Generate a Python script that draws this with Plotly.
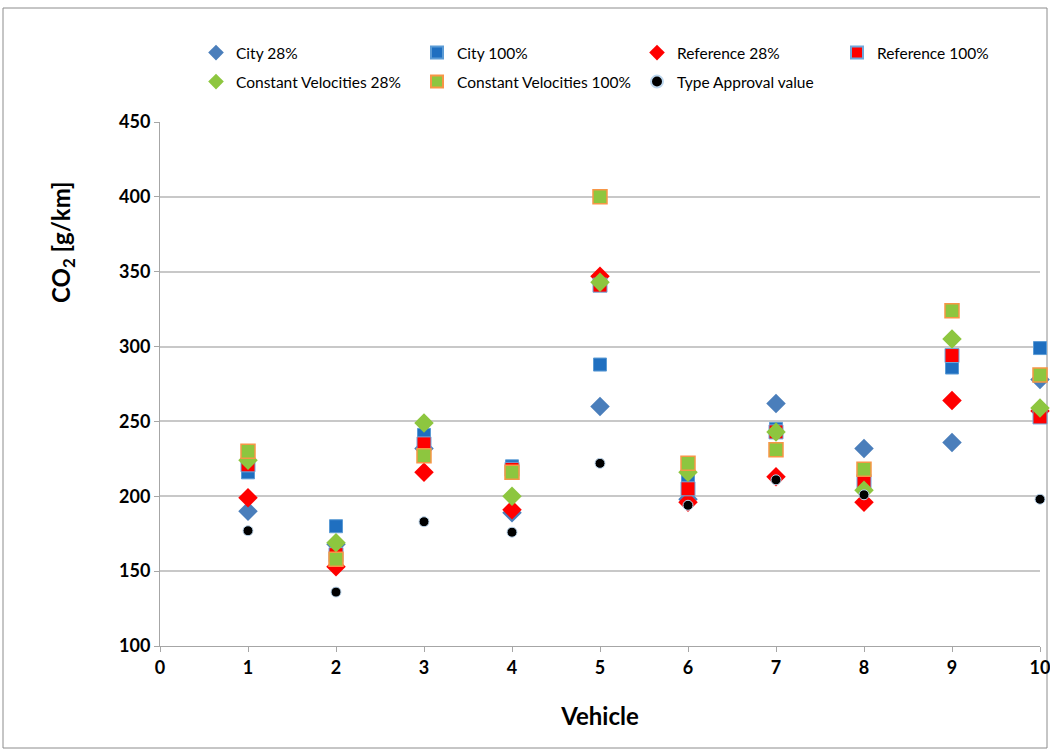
import plotly.graph_objects as go

vehicles = [1, 2, 3, 4, 5, 6, 7, 8, 9, 10]
city_28 = [190, 168, 232, 189, 260, 198, 262, 232, 236, 278]
city_100 = [216, 180, 241, 220, 288, 210, 245, 208, 286, 299]
ref_28 = [199, 153, 216, 191, 347, 196, 213, 196, 264, 257]
ref_100 = [221, 161, 235, 218, 341, 205, 243, 210, 294, 253]
cv_28 = [224, 169, 249, 200, 343, 216, 243, 204, 305, 259]
cv_100 = [230, 158, 227, 216, 400, 222, 231, 218, 324, 281]
type_approval = [177, 136, 183, 176, 222, 194, 211, 201, None, 198]

FONT = "Lato"
PL, PR, PT, PB = 160, 1040, 122, 646
PW, PH = PR - PL, PB - PT

series = [
    ("City 28%", city_28, dict(symbol="diamond", size=15, color="#4A7EBB", line=dict(width=0))),
    ("City 100%", city_100, dict(symbol="square", size=13, color="#1F6FC0", line=dict(width=1, color="#5B9BD5"))),
    ("Reference 28%", ref_28, dict(symbol="diamond", size=15, color="#FF0000", line=dict(width=0))),
    ("Reference 100%", ref_100, dict(symbol="square", size=14, color="#FF0000", line=dict(width=1, color="#6FA8DC"))),
    ("Constant Velocities 28%", cv_28, dict(symbol="diamond", size=15, color="#8DC63F", line=dict(width=0))),
    ("Constant Velocities 100%", cv_100, dict(symbol="square", size=14, color="#8DC63F", line=dict(width=1.5, color="#F79646"))),
    ("Type Approval value", type_approval, dict(symbol="circle", size=10, color="#000000", line=dict(width=1, color="#BDD7EE"))),
]

# legend slots: (left pixel, row center pixel)
legend_slots = [(196, 53), (417, 53), (637, 53), (837, 53), (196, 82), (417, 82), (637, 82)]

fig = go.Figure()
layout_legends = {}
for i, (name, vals, mk) in enumerate(series):
    key = "legend" if i == 0 else f"legend{i + 1}"
    fig.add_trace(go.Scatter(
        x=vehicles, y=vals, mode="markers", name=name, marker=mk,
        cliponaxis=False, legend=key,
    ))
    lx, ly = legend_slots[i]
    layout_legends[key] = dict(
        x=(lx - PL) / PW, y=(PB - ly) / PH, xanchor="left", yanchor="middle",
        font=dict(family=FONT, size=15.5, color="#000000"),
        itemsizing="constant", bgcolor="rgba(0,0,0,0)",
    )

fig.update_layout(
    width=1050, height=750,
    margin=dict(l=PL, r=1050 - PR, t=PT, b=750 - PB, autoexpand=False),
    paper_bgcolor="white", plot_bgcolor="white",
    font=dict(family=FONT, color="#000000"),
    showlegend=True,
    xaxis=dict(
        range=[0, 10], dtick=1, tick0=0, showgrid=False,
        showline=True, linecolor="#A6A6A6", linewidth=1,
        ticks="outside", ticklen=5, tickcolor="#A6A6A6",
        ticklabeloverflow="allow",
        tickfont=dict(family=FONT, size=18, color="#000000", weight="bold"),
        title=dict(text="Vehicle", font=dict(family=FONT, size=24, color="#000000", weight="bold"), standoff=31),
        zeroline=False, automargin=False,
    ),
    yaxis=dict(
        range=[100, 450], dtick=50, showgrid=True, gridcolor="#C8C8C8", gridwidth=1.5,
        showline=True, linecolor="#A6A6A6", linewidth=1,
        ticks="outside", ticklen=5, tickcolor="#A6A6A6",
        tickfont=dict(family=FONT, size=18, color="#000000", weight="bold"),
        zeroline=False, automargin=False,
    ),
    annotations=[dict(
        text="CO<sub>2</sub> [g/km]", textangle=-90, showarrow=False,
        xref="paper", yref="paper", x=(62 - PL) / PW, y=(PB - 242) / PH,
        xanchor="center", yanchor="middle",
        font=dict(family=FONT, size=24, color="#000000", weight="bold"),
    )],
    shapes=[dict(
        type="rect", xref="paper", yref="paper",
        x0=(3 - PL) / PW, x1=(1047 - PL) / PW,
        y0=(PB - 748) / PH, y1=(PB - 8) / PH,
        line=dict(color="#8C8C8C", width=1), fillcolor="rgba(0,0,0,0)", layer="below",
    )],
    **layout_legends,
)

fig.write_html(
    "out.html",
    config={"displayModeBar": False},
    post_script="document.body.style.margin='0';document.body.style.padding='0';",
)
